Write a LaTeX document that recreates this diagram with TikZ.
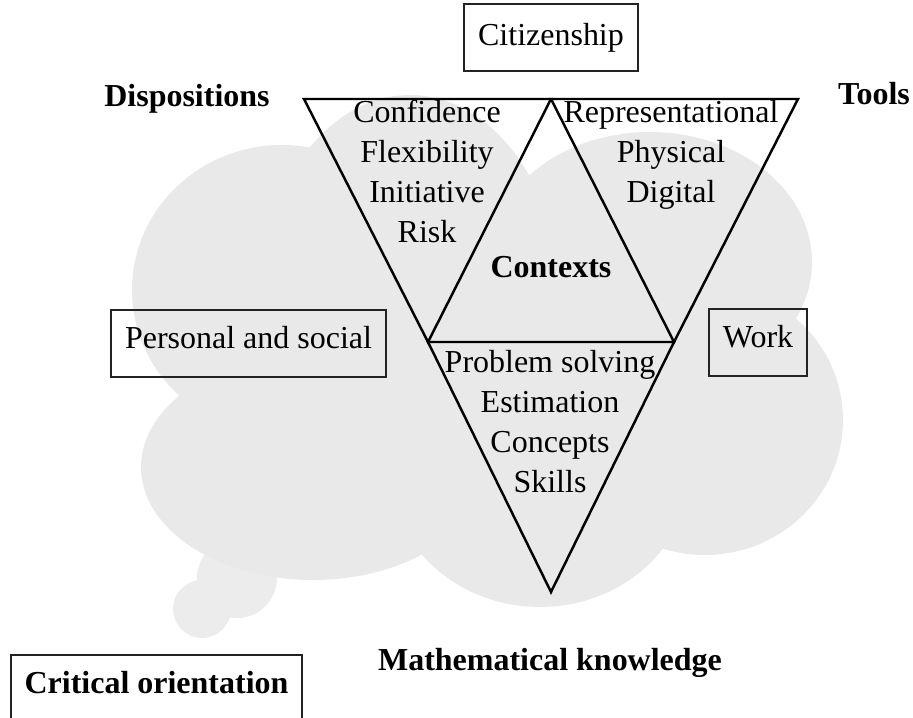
\documentclass[tikz,border=0pt]{standalone}
\usepackage{fontspec}
\setmainfont{Liberation Serif}
\usetikzlibrary{positioning}
\definecolor{cloudgrey}{RGB}{233,233,233}
\definecolor{puffgrey}{RGB}{236,236,236}
\definecolor{framegrey}{RGB}{35,35,35}
\tikzset{
    every node/.style={font=\fontsize{18.2}{22}\selectfont},
    heading/.style={font=\fontsize{18.2}{22}\selectfont\bfseries},
    framebox/.style={draw=framegrey, line width=0.85pt, minimum height=13.4mm,
        inner sep=0pt, text height=0.7em, text depth=0.1em},
    wedge/.style={draw=black, line width=1.4pt, line join=miter}
}
\begin{document}
\begin{tikzpicture}[x=0.2mm,y=-0.2mm]
    \useasboundingbox (0,0) rectangle (913,718);

    % Thought cloud
    \fill[puffgrey] (202,609) circle [radius=29];
    \fill[puffgrey] (237,578) circle [radius=40];
    \fill[cloudgrey] (282,290) ellipse [x radius=150, y radius=145]
        (410,300) ellipse [x radius=150, y radius=205]
        (650,262) ellipse [x radius=162, y radius=130]
        (705,420) ellipse [x radius=138, y radius=135]
        (540,470) ellipse [x radius=150, y radius=137]
        (313,467) ellipse [x radius=172, y radius=113];

    % Triangles
    \coordinate (tl) at (304,99);
    \coordinate (tm) at (551,99);
    \coordinate (tr) at (798,99);
    \coordinate (ml) at (428,342);
    \coordinate (mr) at (674,342);
    \coordinate (bt) at (551,592);
    \draw[wedge] (tl) -- (tm) -- (ml) -- cycle;
    \draw[wedge] (tm) -- (tr) -- (mr) -- cycle;
    \draw[wedge] (ml) -- (mr) -- (bt) -- cycle;

    % Triangle contents
    \foreach \i/\t in {0/Confidence,1/Flexibility,2/Initiative,3/Risk} {
        \node[anchor=base] (disp\i) at (427,122+40*\i) {\t};
    }
    \foreach \i/\t in {0/Representational,1/Physical,2/Digital} {
        \node[anchor=base] (tool\i) at (671,122+40*\i) {\t};
    }
    \foreach \i/\t in {0/Problem solving,1/Estimation,2/Concepts,3/Skills} {
        \node[anchor=base] (know\i) at (550,372+40*\i) {\t};
    }
    \node[heading, anchor=base] (contexts) at (551,277) {Contexts};

    % Corner headings
    \node[heading, anchor=base] (dispositions) at (187,106) {Dispositions};
    \node[heading, anchor=base] (tools) at (874,104) {Tools};
    \node[heading, anchor=base] (maths) at (550,670) {Mathematical knowledge};

    % Context boxes
    \node[framebox, minimum width=34.8mm, text height=1.0em] (citizenship) at (551,37.5) {Citizenship};
    \node[framebox, minimum width=55mm] (personal) at (248.5,343.5) {Personal and social};
    \node[framebox, minimum width=19.6mm] (work) at (758,342.5) {Work};
    \node[framebox, heading, minimum width=58.2mm] (critical) at (156.5,688.5) {Critical orientation};
\end{tikzpicture}
\end{document}
